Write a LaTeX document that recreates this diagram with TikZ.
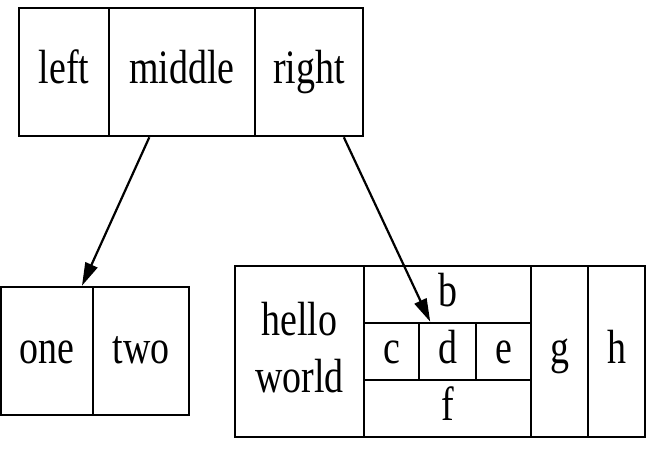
\documentclass[tikz,border=0pt]{standalone}
\usepackage{fontspec}
\setmainfont{Liberation Serif}[FakeStretch=0.79]
\usetikzlibrary{arrows.meta,calc}
\begin{document}
\begin{tikzpicture}[x=1pt,y=-1pt,
  fld/.style={draw,line width=2.6pt,inner sep=0pt,align=center,
    text height=34pt,text depth=10pt,
    font=\fontsize{48}{57}\selectfont},
  edge/.style={line width=2.2pt,-{Triangle[length=23pt,width=13pt]}}]
\useasboundingbox (0,0) rectangle (648,449);
% top record
\node[fld,minimum width=90,minimum height=128] (left) at (64,72) {left};
\node[fld,minimum width=146,minimum height=128] (middle) at (182,72) {middle};
\node[fld,minimum width=108,minimum height=128] (right) at (309,72) {right};
% bottom-left record
\node[fld,minimum width=92,minimum height=128] (one) at (47,351) {one};
\node[fld,minimum width=96,minimum height=128] (two) at (141,351) {two};
% bottom-right record
\node[fld,minimum width=129,minimum height=171,text height=91pt] (hw) at (299.5,351.5) {hello\\world};
\node[fld,minimum width=167,minimum height=57] (b) at (447.5,294.5) {b};
\node[fld,minimum width=55,minimum height=57] (c) at (391.5,351.5) {c};
\node[fld,minimum width=57,minimum height=57] (d) at (447.5,351.5) {d};
\node[fld,minimum width=55,minimum height=57] (e) at (503.5,351.5) {e};
\node[fld,minimum width=167,minimum height=57] (f) at (447.5,408.5) {f};
\node[fld,minimum width=57,minimum height=171] (g) at (559.5,351.5) {g};
\node[fld,minimum width=57,minimum height=171] (h) at (616.5,351.5) {h};
% edges
\draw[edge] ($(middle.south west)!0.28!(middle.south east)$) -- ($(one.north west)!0.87!(one.north east)$);
\draw[edge] ($(right.south west)!0.815!(right.south east)$) -- ($(d.north west)!0.21!(d.north east)$);
\end{tikzpicture}
\end{document}
